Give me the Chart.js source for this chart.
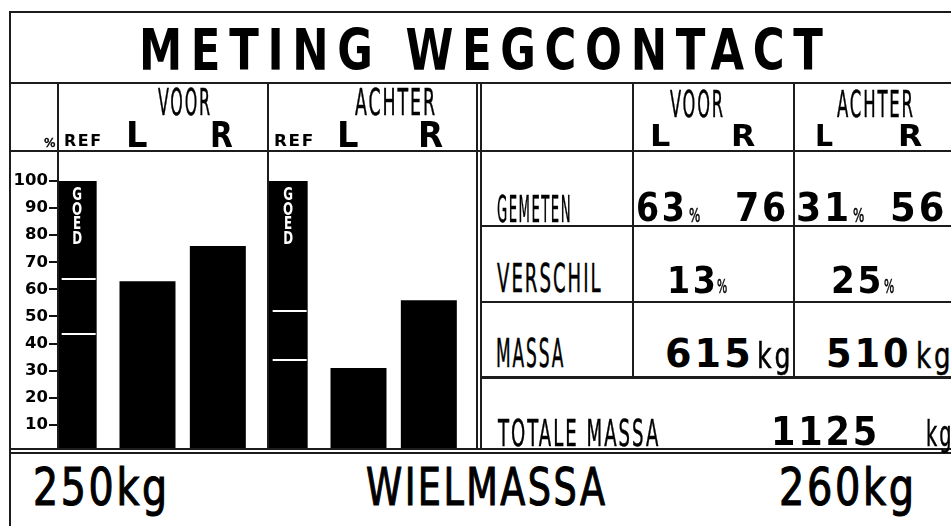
<!DOCTYPE html>
<html lang="nl">
<head>
<meta charset="utf-8">
<title>Meting wegcontact</title>
<script src="https://cdn.jsdelivr.net/npm/chart.js@4.4.0/dist/chart.umd.min.js"></script>
<style>
  html, body { margin: 0; padding: 0; background: #fff; }
  #sheet { position: relative; width: 951px; height: 526px; overflow: hidden; background: #fff; }
  #sheet canvas { position: absolute; }
  #axisCanvas { left: 0; top: 152px; }
  #barCanvas { left: 42px; top: 152px; }
  .rule { position: absolute; background: #1c1c1c; }
  .gap { position: absolute; background: #fff; }
  .txt { position: absolute; white-space: pre; transform-origin: 0 0; color: #000; margin: 0; }
</style>
</head>
<body>
<div id="sheet">
  <canvas id="axisCanvas" width="70" height="300"></canvas>
  <canvas id="barCanvas" width="422" height="300"></canvas>
  <div id="rules"></div>
  <div id="labels"></div>
</div>
<script>
'use strict';

// values
const groups = ['VOOR', 'ACHTER'];
const refValues = [100, 100];
const leftValues = [63, 31];
const rightValues = [76, 56];
const refUpper = [64, 52];
const refLower = [43.5, 34];
const yTicks = [100, 90, 80, 70, 60, 50, 40, 30, 20, 10];
const diffValues = [13, 25];
const massValues = [615, 510];
const totalMass = 1125;
const wheelMass = [250, 260];

const yMax = 110.7;
const barColor = '#000';

const narrowFamily = '"DejaVu Sans Condensed", "Liberation Sans Narrow", "DejaVu Sans", sans-serif';
const fonts = {
  title: { family: '"DejaVu Sans", sans-serif', weight: 'bold', spacing: 0.2, stroke: 0 },
  bold: { family: '"DejaVu Sans", sans-serif', weight: 'bold', spacing: 0.08, stroke: 0 },
  small: { family: '"DejaVu Sans", sans-serif', weight: 'bold', spacing: 0.1, stroke: 0 },
  narrow: { family: narrowFamily, weight: 'normal', spacing: 0.1, stroke: 0.5 },
  wide: { family: narrowFamily, weight: 'normal', spacing: 0.06, stroke: 1.1 }
};

// [text, inkLeft, inkRight, capTop, baseline, font]
const texts = [
  ['METING WEGCONTACT', 143, 823, 28, 70, 'title'],
  ['%', 44, 55, 138, 147, 'narrow'],
  ['REF', 65, 100, 135, 147, 'small'],
  ['L', 129, 147, 121, 147, 'bold'],
  ['R', 212, 232, 121, 147, 'bold'],
  ['VOOR', 158, 210, 88, 115, 'narrow'],
  ['REF', 275, 312, 135, 147, 'small'],
  ['L', 340, 358, 121, 147, 'bold'],
  ['R', 421, 443, 121, 147, 'bold'],
  ['ACHTER', 355, 435, 88, 115, 'narrow'],
  ['VOOR', 670, 723, 90, 117, 'narrow'],
  ['L', 652, 670, 125, 147, 'bold'],
  ['R', 733, 755, 125, 147, 'bold'],
  ['ACHTER', 837, 913, 90, 117, 'narrow'],
  ['L', 817, 833, 125, 147, 'bold'],
  ['R', 900, 922, 125, 147, 'bold'],
  ['GEMETEN', 497, 569, 195, 222, 'narrow'],
  [String(leftValues[0]), 638, 683, 193, 222, 'bold'],
  ['%', 689, 700, 208, 222, 'narrow'],
  [String(rightValues[0]), 737, 785, 193, 222, 'bold'],
  [String(leftValues[1]), 798, 847, 193, 222, 'bold'],
  ['%', 853, 864, 208, 222, 'narrow'],
  [String(rightValues[1]), 893, 943, 193, 222, 'bold'],
  ['VERSCHIL', 497, 601, 265, 293, 'narrow'],
  [String(diffValues[0]), 671, 714, 266, 293, 'bold'],
  ['%', 717, 727, 279, 293, 'narrow'],
  [String(diffValues[1]), 833, 880, 266, 293, 'bold'],
  ['%', 884, 894, 279, 293, 'narrow'],
  ['MASSA', 497, 563, 340, 368, 'narrow'],
  [String(massValues[0]), 667, 748, 340, 368, 'bold'],
  ['kg', 759, 789, 342, 368, 'narrow'],
  [String(massValues[1]), 828, 907, 340, 368, 'bold'],
  ['kg', 918, 949, 342, 368, 'narrow'],
  ['TOTALE MASSA', 497, 658, 419, 446, 'narrow'],
  [String(totalMass), 775, 875, 418, 446, 'bold'],
  ['kg', 927, 950, 420, 446, 'narrow'],
  [wheelMass[0] + 'kg', 36, 164, 469, 506, 'wide'],
  ['WIELMASSA', 367, 605, 469, 506, 'wide'],
  [wheelMass[1] + 'kg', 782, 911, 469, 506, 'wide']
];

// [left, top, width, height]
const rules = [
  [9, 11, 942, 2],
  [9, 11, 2, 515],
  [9, 82, 942, 2],
  [9, 150, 942, 2],
  [57, 82, 2, 367],
  [267, 82, 2, 367],
  [476, 82, 2, 367],
  [480, 82, 2, 367],
  [632, 82, 2, 296],
  [793, 82, 2, 296],
  [481, 225, 470, 2],
  [481, 301, 470, 2],
  [481, 376, 470, 3],
  [9, 448, 942, 2],
  [9, 452, 942, 2]
];

const meter = document.createElement('canvas').getContext('2d');

const drawRules = () => {
  const host = document.getElementById('rules');
  const gap = document.createElement('div');
  gap.className = 'gap';
  Object.assign(gap.style, { left: '11px', top: '450px', width: '940px', height: '2px' });
  host.appendChild(gap);
  rules.forEach(([x, y, w, h]) => {
    const el = document.createElement('div');
    el.className = 'rule';
    Object.assign(el.style, { left: x + 'px', top: y + 'px', width: w + 'px', height: h + 'px' });
    host.appendChild(el);
  });
};

// fit a text's ink into the given box: cap height sets the size, width sets scaleX
const placeText = ([str, x0, x1, top, base, kind]) => {
  const f = fonts[kind];
  meter.font = `${f.weight} 100px ${f.family}`;
  const capRatio = meter.measureText('H').actualBoundingBoxAscent / 100;
  const size = (base - top) / capRatio;
  const spacing = f.spacing * size;
  meter.font = `${f.weight} ${size}px ${f.family}`;
  const m = meter.measureText(str);
  const ink = m.actualBoundingBoxLeft + m.actualBoundingBoxRight + spacing * (str.length - 1);
  const sx = (x1 - x0) / ink;
  const asc = m.fontBoundingBoxAscent;
  const desc = m.fontBoundingBoxDescent;
  const baseOffset = (size - (asc + desc)) / 2 + asc;

  const el = document.createElement('span');
  el.className = 'txt';
  el.textContent = str;
  el.style.font = `${f.weight} ${size}px/${size}px ${f.family}`;
  el.style.letterSpacing = spacing + 'px';
  el.style.left = (x0 + m.actualBoundingBoxLeft * sx) + 'px';
  el.style.top = (base - baseOffset) + 'px';
  el.style.transform = `scaleX(${sx})`;
  if (f.stroke) el.style.webkitTextStroke = `${f.stroke}px #000`;
  document.getElementById('labels').appendChild(el);
};

// white limit marks and GOED on the reference bars
const refMarks = {
  id: 'refMarks',
  afterDatasetsDraw(chart) {
    const ctx = chart.ctx;
    const yScale = chart.scales.y;
    const bars = chart.getDatasetMeta(0).data;
    ctx.save();
    bars.forEach((bar, i) => {
      const half = bar.width / 2;
      ctx.strokeStyle = '#fff';
      ctx.lineWidth = 2;
      [refUpper[i], refLower[i]].forEach((v) => {
        const py = Math.round(yScale.getPixelForValue(v));
        ctx.beginPath();
        ctx.moveTo(bar.x - half + 4, py);
        ctx.lineTo(bar.x + half - 1, py);
        ctx.stroke();
      });
      ctx.save();
      ctx.translate(bar.x, bar.y);
      ctx.scale(0.7, 1);
      ctx.fillStyle = '#fff';
      ctx.font = 'bold 17px "DejaVu Sans", sans-serif';
      ctx.textAlign = 'center';
      ctx.textBaseline = 'alphabetic';
      'GOED'.split('').forEach((ch, k) => {
        ctx.fillText(ch, 0, 19 + k * 14.7);
      });
      ctx.restore();
    });
    ctx.restore();
  }
};

const renderAxis = () => {
  new Chart(document.getElementById('axisCanvas'), {
    type: 'bar',
    data: { labels: groups, datasets: [] },
    options: {
      responsive: false,
      animation: false,
      layout: { padding: 0 },
      plugins: { legend: { display: false }, tooltip: { enabled: false } },
      scales: {
        x: { display: false },
        y: {
          min: 0,
          max: yMax,
          afterBuildTicks: (scale) => {
            scale.ticks = yTicks.map((v) => ({ value: v }));
          },
          afterFit: (scale) => {
            scale.width = 58;
            scale.paddingTop = 0;
            scale.paddingBottom = 0;
          },
          border: { display: false },
          grid: { drawOnChartArea: false, drawTicks: true, tickLength: 9, color: '#111', lineWidth: 2 },
          ticks: {
            color: '#000',
            padding: 1,
            autoSkip: false,
            font: { family: '"DejaVu Sans", sans-serif', size: 16.5, weight: 'bold' }
          }
        }
      }
    }
  });
};

const renderBars = () => {
  new Chart(document.getElementById('barCanvas'), {
    type: 'bar',
    data: {
      labels: groups,
      datasets: [
        { label: 'REF', data: refValues, backgroundColor: barColor, barPercentage: 0.5545, categoryPercentage: 1 },
        { label: 'L', data: leftValues, backgroundColor: barColor, barPercentage: 0.796, categoryPercentage: 1 },
        { label: 'R', data: rightValues, backgroundColor: barColor, barPercentage: 0.796, categoryPercentage: 1 }
      ]
    },
    options: {
      responsive: false,
      animation: false,
      layout: { padding: 0 },
      plugins: { legend: { display: false }, tooltip: { enabled: false } },
      scales: {
        x: { display: false },
        y: { display: false, min: 0, max: yMax }
      }
    },
    plugins: [refMarks]
  });
};

document.addEventListener('DOMContentLoaded', () => {
  renderAxis();
  renderBars();
  drawRules();
  texts.forEach(placeText);
});
</script>
</body>
</html>
